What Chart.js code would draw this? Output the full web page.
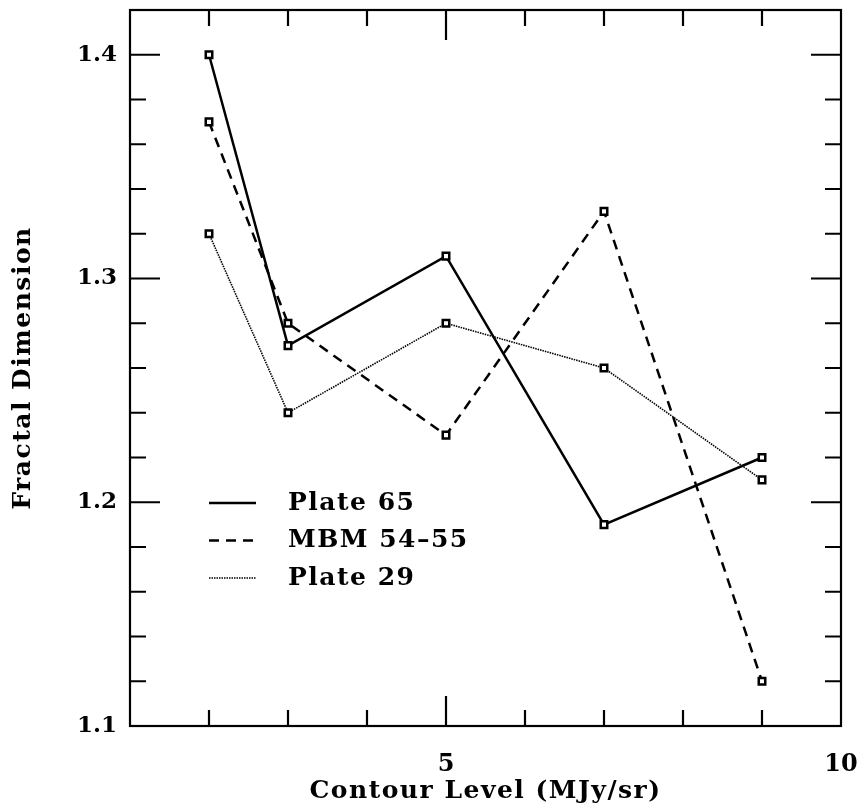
<!DOCTYPE html>
<html>
<head>
<meta charset="utf-8">
<script src="https://cdn.jsdelivr.net/npm/chart.js@4"></script>
<style>
  html, body { margin: 0; padding: 0; background: #fff; }
  canvas { display: block; }
</style>
</head>
<body>
<canvas id="c" width="860" height="806"></canvas>
<script>
// ---- data ----
const contourLevels = [2, 3, 5, 7, 9];
const plate65 = [1.40, 1.27, 1.31, 1.19, 1.22];
const mbm5455 = [1.37, 1.28, 1.23, 1.33, 1.12];
const plate29 = [1.32, 1.24, 1.28, 1.26, 1.21];
const seriesNames = ['Plate 65', 'MBM 54\u201355', 'Plate 29'];
const xLabelValues = [5, 10];
const yLabelValues = [1.1, 1.2, 1.3, 1.4];

const FONT = '"DejaVu Serif", serif';

function pts(vals) { return contourLevels.map((x, i) => ({ x: x, y: vals[i] })); }

const common = {
  borderColor: '#000',
  pointStyle: 'rect',
  pointRadius: 4.6,
  pointBorderWidth: 2.5,
  pointBackgroundColor: '#fff',
  pointBorderColor: '#000',
  tension: 0,
  fill: false
};

const datasets = [
  Object.assign({}, common, { label: seriesNames[0], data: pts(plate65), borderWidth: 2.5, borderDash: [] }),
  Object.assign({}, common, { label: seriesNames[1], data: pts(mbm5455), borderWidth: 2.5, borderDash: [10, 7] }),
  Object.assign({}, common, { label: seriesNames[2], data: pts(plate29), borderWidth: 1.6, borderDash: [1.5, 1] })
];

function isNear(v, list) { return list.some(l => Math.abs(v - l) < 1e-6); }

const framePlugin = {
  id: 'frame',
  beforeLayout(chart) { chart.ctx.letterSpacing = '1.5px'; },
  beforeDraw(chart) { chart.ctx.letterSpacing = '1.5px'; },
  afterDatasetsDraw(chart) { chart.ctx.letterSpacing = '0px'; },
  afterDraw(chart) {
    const ctx = chart.ctx;
    const { left, right, top, bottom } = chart.chartArea;
    const x = chart.scales.x, y = chart.scales.y;
    ctx.save();
    ctx.strokeStyle = '#000';
    ctx.lineWidth = 2.2;
    ctx.setLineDash([]);
    ctx.lineCap = 'butt';
    ctx.strokeRect(left, top, right - left, bottom - top);
    ctx.beginPath();
    x.ticks.forEach(t => {
      const v = t.value;
      if (v <= x.min + 1e-6 || v >= x.max - 1e-6) return;
      const px = x.getPixelForValue(v);
      const len = isNear(v % 5, [0]) ? 30 : 16;
      ctx.moveTo(px, bottom); ctx.lineTo(px, bottom - len);
      ctx.moveTo(px, top); ctx.lineTo(px, top + len);
    });
    y.ticks.forEach(t => {
      const v = t.value;
      if (v <= y.min + 1e-6 || v >= y.max - 1e-6) return;
      const py = y.getPixelForValue(v);
      const major = Math.abs(v * 10 - Math.round(v * 10)) < 1e-6;
      const len = major ? 30 : 16;
      ctx.moveTo(left, py); ctx.lineTo(left + len, py);
      ctx.moveTo(right, py); ctx.lineTo(right - len, py);
    });
    ctx.stroke();

    // legend inside plot
    ctx.letterSpacing = '1.5px';
    ctx.font = 'bold 25px ' + FONT;
    ctx.fillStyle = '#000';
    ctx.textBaseline = 'middle';
    ctx.textAlign = 'left';
    chart.data.datasets.forEach((ds, i) => {
      const ly = top + 493 + i * 37.5;
      ctx.beginPath();
      ctx.lineWidth = ds.borderWidth;
      ctx.setLineDash(ds.borderDash || []);
      ctx.moveTo(left + 79, ly);
      ctx.lineTo(left + 126, ly);
      ctx.stroke();
      ctx.setLineDash([]);
      ctx.fillText(ds.label, left + 158, ly);
    });
    ctx.restore();
  }
};

new Chart(document.getElementById('c'), {
  type: 'line',
  data: { datasets: datasets },
  options: {
    responsive: false,
    devicePixelRatio: 1,
    animation: false,
    layout: { padding: { left: 0, right: 19, top: 10, bottom: 0 } },
    plugins: { legend: { display: false }, tooltip: { enabled: false } },
    scales: {
      x: {
        type: 'linear',
        min: 1, max: 10,
        grid: { display: false, drawTicks: false },
        border: { display: false },
        ticks: {
          stepSize: 1,
          autoSkip: false,
          maxRotation: 0,
          padding: 24,
          z: 1,
          color: '#000',
          font: { family: FONT, size: 24, weight: 'bold' },
          callback: (v) => isNear(v, xLabelValues) ? String(v) : ''
        },
        title: {
          display: true,
          text: 'Contour Level (MJy/sr)',
          color: '#000',
          font: { family: FONT, size: 25, weight: 'bold' },
          padding: { top: 0, bottom: 0 }
        },
        afterFit(s) { s.height = 80; s.paddingLeft = 0; s.paddingRight = 0; }
      },
      y: {
        type: 'linear',
        min: 1.1, max: 1.42,
        grid: { display: false, drawTicks: false },
        border: { display: false },
        ticks: {
          stepSize: 0.02,
          autoSkip: false,
          padding: 13,
          z: 1,
          color: '#000',
          font: { family: FONT, size: 23, weight: 'bold' },
          callback: (v) => isNear(v, yLabelValues) ? v.toFixed(1) : ''
        },
        title: {
          display: true,
          text: 'Fractal Dimension',
          color: '#000',
          font: { family: FONT, size: 25, weight: 'bold' },
          padding: { top: 8, bottom: 0 }
        },
        afterFit(s) { s.width = 130; s.paddingTop = 0; s.paddingBottom = 0; }
      }
    }
  },
  plugins: [framePlugin]
});
</script>
</body>
</html>
